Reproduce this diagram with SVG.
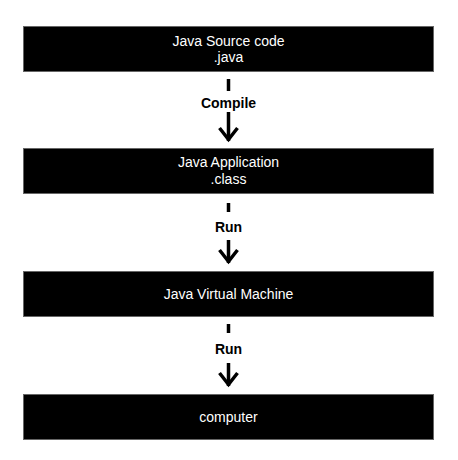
<svg xmlns="http://www.w3.org/2000/svg" width="458" height="460" viewBox="0 0 458 460">
<style>
.box{fill:#000;stroke:#666;stroke-width:1}
.t{fill:#fff;font-family:"Liberation Sans",Arial,sans-serif;font-size:14px;text-anchor:middle}
.lbl{fill:#000;font-family:"Liberation Sans",Arial,sans-serif;font-size:14px;font-weight:bold;text-anchor:middle}
.ln{stroke:#000;stroke-width:3.5;fill:none}
.hd{stroke:#000;stroke-width:3.5;fill:none;stroke-linecap:butt;stroke-linejoin:miter}
</style>
<rect width="458" height="460" fill="#fff"/>
<g id="source">
<rect class="box" x="23.5" y="26.5" width="410" height="45"/>
<text class="t" x="228.5" y="46">Java Source code</text>
<text class="t" x="228.5" y="62">.java</text>
</g>
<g id="application">
<rect class="box" x="23.5" y="148.5" width="410" height="45"/>
<text class="t" x="228.5" y="167">Java Application</text>
<text class="t" x="228.5" y="183.5">.class</text>
</g>
<g id="jvm">
<rect class="box" x="23.5" y="271.5" width="410" height="45"/>
<text class="t" x="228.5" y="299">Java Virtual Machine</text>
</g>
<g id="computer">
<rect class="box" x="23.5" y="394.5" width="410" height="45"/>
<text class="t" x="228.5" y="422">computer</text>
</g>
<g id="connectors">
<line class="ln" x1="228.5" y1="79" x2="228.5" y2="91"/>
<text class="lbl" x="228.5" y="107.5">Compile</text>
<line class="ln" x1="228.5" y1="112" x2="228.5" y2="141"/>
<polyline class="hd" points="219.5,128 228.5,139.5 237.5,128"/>
<line class="ln" x1="228.5" y1="203" x2="228.5" y2="212"/>
<text class="lbl" x="228.5" y="232">Run</text>
<line class="ln" x1="228.5" y1="240" x2="228.5" y2="263"/>
<polyline class="hd" points="219.5,250 228.5,261.5 237.5,250"/>
<line class="ln" x1="228.5" y1="324" x2="228.5" y2="333"/>
<text class="lbl" x="228.5" y="354">Run</text>
<line class="ln" x1="228.5" y1="363" x2="228.5" y2="386"/>
<polyline class="hd" points="219.5,373 228.5,384.5 237.5,373"/>
</g>
</svg>
